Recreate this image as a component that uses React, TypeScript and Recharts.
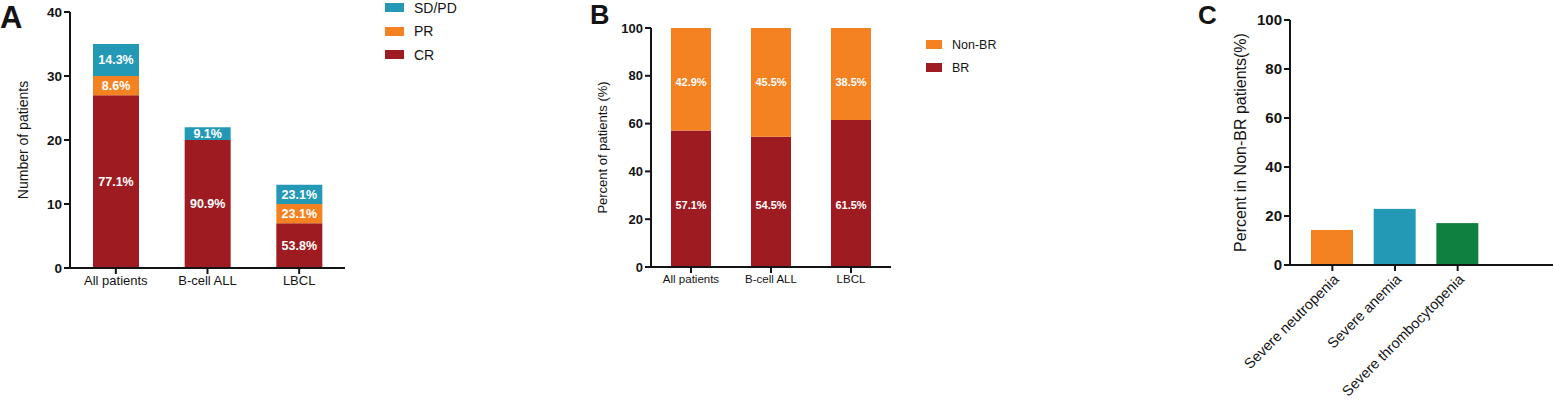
import { BarChart, Bar, XAxis, YAxis, Legend, LabelList } from 'recharts';

// Panel A: response by group (counts)
const GROUPS = ['All patients', 'B-cell ALL', 'LBCL'];
const CR_COUNTS = [27, 20, 7];
const PR_COUNTS = [3, 0, 3];
const SDPD_COUNTS = [5, 2, 3];
const COUNT_TICKS = [0, 10, 20, 30, 40];

// Panel B: BR vs Non-BR (%)
const BR_PCT = [57.1, 54.5, 61.5];
const NON_BR_PCT = [42.9, 45.5, 38.5];
const PCT_TICKS = [0, 20, 40, 60, 80, 100];

// Panel C: cytopenias in Non-BR patients (%)
const TOXICITIES = ['Severe neutropenia', 'Severe anemia', 'Severe thrombocytopenia'];
const TOXICITY_PCT = [14.3, 22.9, 17.1];

const RED = '#9d1b21';
const ORANGE = '#f58220';
const TEAL = '#2399b5';
const GREEN = '#0f803f';
const INK = '#141414';
const FONT = "Arial, 'Liberation Sans', sans-serif";

const TOX_COLORS = [ORANGE, TEAL, GREEN];

const pctLabel = (v: number, total: number) => (v ? `${((v / total) * 100).toFixed(1)}%` : '');

const responseData = GROUPS.map((group, i) => {
  const total = CR_COUNTS[i] + PR_COUNTS[i] + SDPD_COUNTS[i];
  return {
    group,
    CR: CR_COUNTS[i],
    PR: PR_COUNTS[i],
    SDPD: SDPD_COUNTS[i],
    crLabel: pctLabel(CR_COUNTS[i], total),
    prLabel: pctLabel(PR_COUNTS[i], total),
    sdLabel: pctLabel(SDPD_COUNTS[i], total),
  };
});

const brData = GROUPS.map((group, i) => ({ group, BR: BR_PCT[i], NonBR: NON_BR_PCT[i] }));

const toxData = TOXICITIES.map((name, i) => ({ name, value: TOXICITY_PCT[i], color: TOX_COLORS[i] }));

const axisLine = { stroke: INK, strokeWidth: 2 };

type LegendItem = { name: string; color: string };

function SwatchLegend({ items, rowH, sw, fontSize }: { items: LegendItem[]; rowH: number; sw: number; fontSize: number }) {
  return (
    <div style={{ fontFamily: FONT }}>
      {items.map((it) => (
        <div key={it.name} style={{ display: 'flex', alignItems: 'center', height: rowH }}>
          <span style={{ display: 'inline-block', width: sw, height: 9, background: it.color, marginRight: 10 }} />
          <span style={{ fontSize, color: INK }}>{it.name}</span>
        </div>
      ))}
    </div>
  );
}

const panelLetter = (letter: string, left: number, size: number) => (
  <div
    style={{
      position: 'absolute',
      left,
      top: 0,
      fontSize: size,
      fontWeight: 700,
      lineHeight: `${size + 4}px`,
      color: INK,
    }}
  >
    {letter}
  </div>
);

export default function App() {
  return (
    <div
      style={{
        position: 'absolute',
        left: 0,
        top: 0,
        width: 1553,
        height: 405,
        background: '#fff',
        fontFamily: FONT,
        overflow: 'hidden',
      }}
    >
      {panelLetter('A', 0, 31)}
      {panelLetter('B', 590, 27)}
      {panelLetter('C', 1198, 26)}

      <div style={{ position: 'absolute', left: 0, top: 0 }}>
        <BarChart width={480} height={300} data={responseData} margin={{ top: 12, right: 135, bottom: 2, left: 0 }}>
          <XAxis
            dataKey="group"
            height={30}
            axisLine={axisLine}
            tickLine={axisLine}
            tickSize={6}
            tick={{ fill: INK, fontSize: 13 }}
          />
          <YAxis
            width={70}
            domain={[0, 40]}
            ticks={COUNT_TICKS}
            axisLine={axisLine}
            tickLine={axisLine}
            tickSize={6}
            tick={{ fill: INK, fontSize: 13.5, fontWeight: 700 }}
            label={{ value: 'Number of patients', angle: -90, position: 'center', dx: -12, fill: INK, fontSize: 14 }}
          />
          <Legend
            layout="vertical"
            align="center"
            verticalAlign="middle"
            wrapperStyle={{ left: 385, top: -4, width: 100 }}
            content={() => (
              <SwatchLegend
                items={[
                  { name: 'SD/PD', color: TEAL },
                  { name: 'PR', color: ORANGE },
                  { name: 'CR', color: RED },
                ]}
                rowH={23.5}
                sw={19}
                fontSize={14}
              />
            )}
          />
          <Bar dataKey="CR" stackId="a" fill={RED} barSize={46} isAnimationActive={false}>
            <LabelList dataKey="crLabel" position="center" fill="#fff" fontSize={12.5} fontWeight={700} />
          </Bar>
          <Bar dataKey="PR" stackId="a" fill={ORANGE} barSize={46} isAnimationActive={false}>
            <LabelList dataKey="prLabel" position="center" fill="#fff" fontSize={12.5} fontWeight={700} />
          </Bar>
          <Bar dataKey="SDPD" stackId="a" fill={TEAL} barSize={46} isAnimationActive={false}>
            <LabelList dataKey="sdLabel" position="center" fill="#fff" fontSize={12.5} fontWeight={700} />
          </Bar>
        </BarChart>
      </div>

      <div style={{ position: 'absolute', left: 540, top: 0 }}>
        <BarChart width={480} height={300} data={brData} margin={{ top: 28, right: 129, bottom: 3, left: 0 }}>
          <XAxis
            dataKey="group"
            height={30}
            axisLine={axisLine}
            tickLine={axisLine}
            tickSize={6}
            tick={{ fill: INK, fontSize: 11.5 }}
          />
          <YAxis
            width={111}
            domain={[0, 100]}
            ticks={PCT_TICKS}
            axisLine={axisLine}
            tickLine={axisLine}
            tickSize={6}
            tick={{ fill: INK, fontSize: 13, fontWeight: 700 }}
            label={{ value: 'Percent of patients (%)', angle: -90, position: 'center', dx: 6.5, fill: INK, fontSize: 13 }}
          />
          <Legend
            layout="vertical"
            align="center"
            verticalAlign="middle"
            wrapperStyle={{ left: 386, top: 33, width: 100 }}
            content={() => (
              <SwatchLegend
                items={[
                  { name: 'Non-BR', color: ORANGE },
                  { name: 'BR', color: RED },
                ]}
                rowH={23}
                sw={16}
                fontSize={12.5}
              />
            )}
          />
          <Bar dataKey="BR" stackId="b" fill={RED} barSize={40} isAnimationActive={false}>
            <LabelList
              dataKey="BR"
              position="insideBottom"
              offset={58}
              fill="#fff"
              fontSize={11}
              fontWeight={700}
              formatter={(v: number) => `${v.toFixed(1)}%`}
            />
          </Bar>
          <Bar dataKey="NonBR" stackId="b" fill={ORANGE} barSize={40} isAnimationActive={false}>
            <LabelList
              dataKey="NonBR"
              position="insideTop"
              offset={50}
              fill="#fff"
              fontSize={11}
              fontWeight={700}
              formatter={(v: number) => `${v.toFixed(1)}%`}
            />
          </Bar>
        </BarChart>
      </div>

      <div style={{ position: 'absolute', left: 1160, top: 0 }}>
        <BarChart width={393} height={405} data={toxData} margin={{ top: 20, right: 0, bottom: 0, left: 0 }}>
          <XAxis
            dataKey="name"
            height={140}
            interval={0}
            padding={{ left: 11, right: 64 }}
            axisLine={axisLine}
            tickLine={axisLine}
            tickSize={6}
            angle={-45}
            textAnchor="end"
            tick={{ fill: INK, fontSize: 14.5, dy: 0 }}
          />
          <YAxis
            width={130}
            domain={[0, 100]}
            ticks={PCT_TICKS}
            axisLine={axisLine}
            tickLine={axisLine}
            tickSize={6}
            tick={{ fill: INK, fontSize: 15, fontWeight: 700 }}
            label={{ value: 'Percent in Non-BR patients(%)', angle: -90, position: 'center', dx: 15, fill: INK, fontSize: 16 }}
          />
          <Bar
            dataKey="value"
            barSize={42}
            isAnimationActive={false}
            shape={(p: any) => <rect x={p.x} y={p.y} width={p.width} height={p.height} fill={p.payload.color} />}
          />
        </BarChart>
      </div>
    </div>
  );
}
